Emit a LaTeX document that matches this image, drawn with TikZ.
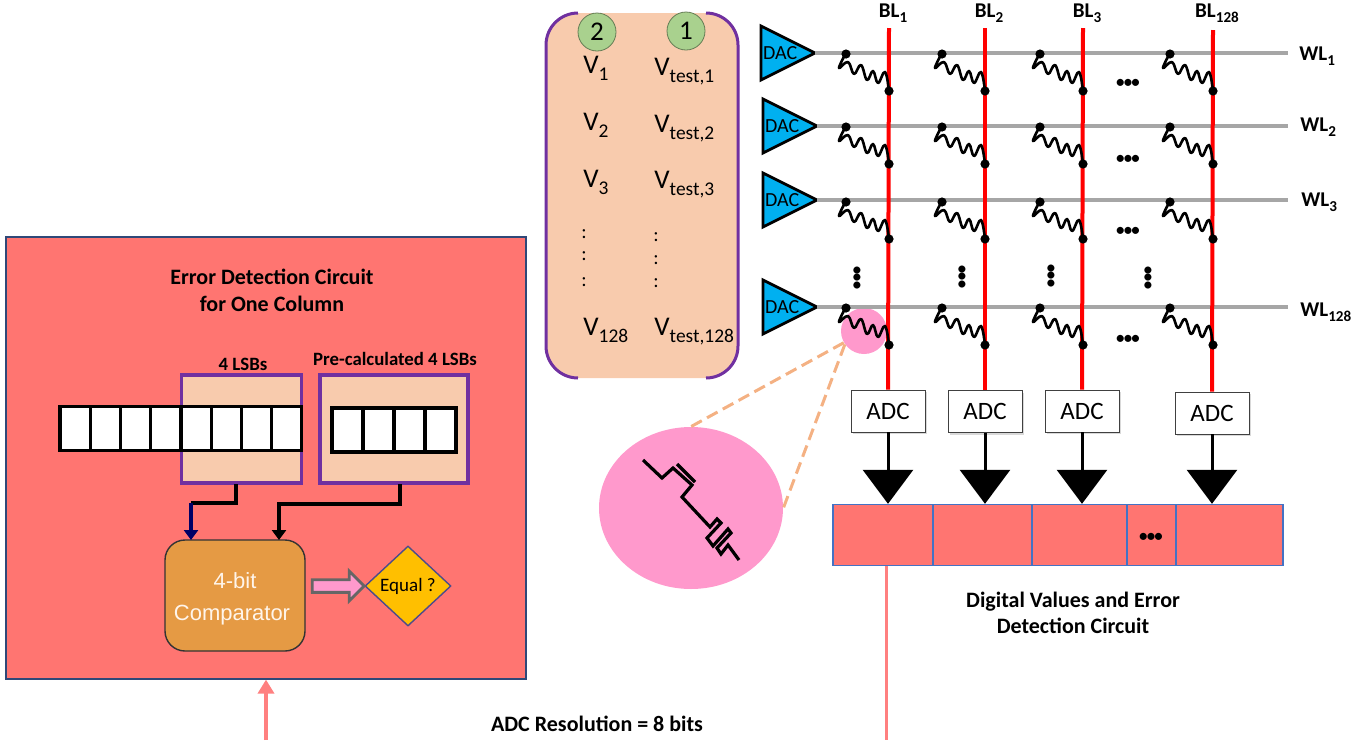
\documentclass[tikz,border=0pt]{standalone}
\usepackage{fontspec}
\setmainfont{Carlito}
\newfontfamily\arialfont{Liberation Sans}
\usetikzlibrary{arrows.meta,calc,positioning,shapes.geometric,shapes.arrows,shadows}
\definecolor{PanelRed}{RGB}{255,117,113}
\definecolor{Peach}{RGB}{248,203,173}
\definecolor{FramePurple}{RGB}{112,48,160}
\definecolor{DacBlue}{RGB}{0,176,240}
\definecolor{WireGray}{RGB}{166,166,166}
\definecolor{Pinky}{RGB}{255,153,204}
\definecolor{DashPeach}{RGB}{244,177,131}
\definecolor{CellBlue}{RGB}{68,114,196}
\definecolor{OrangeBox}{RGB}{229,154,68}
\definecolor{LeafGreen}{RGB}{169,209,142}
\definecolor{BusPink}{RGB}{255,128,128}
\definecolor{PanelEdge}{RGB}{47,72,120}
\newcommand{\idx}[1]{\raisebox{-.28em}{\scalebox{.72}{#1}}}
\tikzset{
  dac/.style={isosceles triangle,isosceles triangle stretches,draw=black,line width=1.4pt,fill=DacBlue,
    minimum width=27pt,minimum height=27pt,inner sep=0pt,outer sep=0pt,font=\fontsize{10}{10}\selectfont},
  adc/.style={draw=black!75,fill=white,minimum width=37pt,minimum height=21pt,inner sep=0pt,
    font=\fontsize{12.5}{12.5}\selectfont,drop shadow={shadow xshift=1pt,shadow yshift=-1pt,opacity=.3}},
  regcell/.style={draw=CellBlue,line width=.7pt,fill=PanelRed,minimum height=30.5pt,inner sep=0pt},
  bitcell/.style={draw=black,line width=1.6pt,fill=white,inner sep=0pt,outer sep=0pt,minimum height=22pt},
  lsbframe/.style={draw=FramePurple,line width=1.6pt,fill=Peach,inner sep=0pt},
  voltage/.style={anchor=base west,inner sep=0pt,font=\fontsize{13.5}{13.5}\selectfont},
  bold/.style={inner sep=0pt,font=\fontsize{9.4}{12}\selectfont\bfseries},
  wlabel/.style={anchor=base west,inner sep=0pt,font=\fontsize{10.5}{10.5}\selectfont\bfseries},
  dots/.style={inner sep=0pt,font=\fontsize{10}{10}\selectfont},
  stepmark/.style={circle,draw=LeafGreen!60!black,fill=LeafGreen,minimum size=19pt,inner sep=0pt,
    font=\fontsize{13.5}{13.5}\selectfont},
  memcell/.pic={
    \draw[black,line width=1.3pt,line join=round] plot[smooth,tension=.7] coordinates
      {(-43,0) (-50,15) (-41,9) (-35,21) (-28,12) (-22,27) (-16,18) (-11,30) (-4,19) (0,38)};
    \fill (-43,1) circle (2.3pt);
    \fill (0,38) circle (2.3pt);
  }
}
\begin{document}
\begin{tikzpicture}[x=.5pt,y=-.5pt]
  \useasboundingbox (0,0) rectangle (1371,740);
  % left panel
  \node[draw=PanelEdge,line width=.6pt,fill=PanelRed,minimum width=260pt,minimum height=221pt,inner sep=0pt] (detect) at (266,458) {};
  \node[bold,align=center,font=\fontsize{11}{13.5}\selectfont\bfseries] (detect title) at (272,290) {Error Detection Circuit\\for One Column};
  \node[lsbframe,minimum width=60pt,minimum height=54pt] (lsb frame) at (241.5,429) {};
  \node[lsbframe,minimum width=74pt,minimum height=54pt] (pre frame) at (394,429) {};
  \node[bold] (lsb label) at (243,364) {4 LSBs};
  \node[bold] (pre label) at (395,359) {Pre-calculated 4 LSBs};
  \foreach \i in {0,...,7}{
    \node[bitcell,minimum width=15.1pt] (bit\i) at ({75+\i*30.25},428.5) {};
  }
  \foreach \i in {0,...,3}{
    \node[bitcell,minimum width=15.5pt] (pre\i) at ({347.5+\i*31},430) {};
  }
  \node[draw=black!80,line width=.7pt,fill=OrangeBox,rounded corners=10pt,minimum width=70pt,minimum height=55.5pt,inner sep=0pt] (comparator) at (235,595.5) {};
  \node[inner sep=0pt,text=white!92!orange,font=\arialfont\fontsize{11}{16}\selectfont,align=center] (comparator text) at (232,599) {\hspace*{3pt}4-bit\\Comparator};
  \node[diamond,draw=blue!35!black!70,line width=.7pt,fill=orange!50!yellow,minimum width=43pt,minimum height=40pt,aspect=1.08,inner sep=0pt,font=\fontsize{9.5}{10}\selectfont] (equal) at (408,586) {Equal ?};
  \node[single arrow,draw=black!60,line width=1.4pt,fill=Pinky,minimum height=26pt,minimum width=15pt,single arrow head extend=3pt,inner sep=1.5pt] (result) at (335,586) {};
  \coordinate (lsb out) at (236,484);
  \coordinate (lsb bend) at (191,503);
  \coordinate (lsb in) at (191,540);
  \coordinate (pre out) at (400,484);
  \coordinate (pre in) at (279,540);
  \draw[black,line width=1.7pt] (lsb out) |- (lsb bend);
  \draw[blue!40!black,line width=1.7pt,-{Triangle[width=7pt,length=5pt]}] (lsb bend) -- (lsb in);
  \draw[black,line width=1.7pt,-{Triangle[width=7pt,length=5pt]}] (pre out) |- ($(pre in)+(0,-36)$) -- (pre in);
  % voltages
  \fill[Peach,rounded corners=16pt] (546,13) rectangle (738,378);
  \coordinate (tl) at (578,13);
  \coordinate (bl) at (578,378);
  \coordinate (tr) at (706,13);
  \coordinate (br) at (706,378);
  \draw[FramePurple,line width=1.5pt,rounded corners=16pt] (tl) -- (546,13) -- (546,378) -- (bl);
  \draw[FramePurple,line width=1.5pt,rounded corners=16pt] (tr) -- (738,13) -- (738,378) -- (br);
  \node[stepmark] (two) at (597,32) {2};
  \node[stepmark] (one) at (686,31) {1};
  \node[voltage] (v1) at (583,73) {V\idx{1}};
  \node[voltage] (v2) at (583,130) {V\idx{2}};
  \node[voltage] (v3) at (583,187) {V\idx{3}};
  \node[voltage] (v128) at (583,335) {V\idx{128}};
  \node[voltage] (t1) at (654,75) {V\idx{test,1}};
  \node[voltage] (t2) at (654,132) {V\idx{test,2}};
  \node[voltage] (t3) at (654,188) {V\idx{test,3}};
  \node[voltage] (t128) at (654,335) {V\idx{test,128}};
  \foreach \y in {234,256,282}{\node[dots] at (584,\y) {:};}
  \foreach \y in {237,260,283}{\node[dots] at (656,\y) {:};}
  % zoomed cell
  \node[circle,fill=Pinky,minimum size=23pt,inner sep=0pt] (spot) at (864,331) {};
  \node[ellipse,fill=Pinky,minimum width=92pt,minimum height=81pt,inner sep=0pt] (spot big) at (691,508) {};
  \draw[DashPeach,line width=1.5pt,dash pattern=on 6pt off 3pt] (spot.210) -- (spot big.north);
  \draw[DashPeach,line width=1.5pt,dash pattern=on 6pt off 3pt] (spot.215) -- (spot big.east);
  \draw[black,line width=1.6pt,line join=miter] (643,460) -- (662,478) -- (673,468) -- (692,485) -- (682,497) -- (710,527)
    -- (717,519) -- (721,523) -- (707,538) -- (713,546) -- (728,529) -- (731,533) -- (717,548) -- (721,554) -- (728,545) -- (739,560);
  \draw[black,line width=1.6pt] (677,464) -- (695,482);
  % crossbar
  \foreach \n/\x/\t/\ytop in {1/889/{1}/28,2/985/{2}/28,3/1083/{3}/28,4/1213/{128}/30}{
    \coordinate (bl\n) at (\x,\ytop);
    \node[anchor=base,inner sep=0pt,font=\fontsize{10.5}{10.5}\selectfont\bfseries] (bl label\n) at (\x+4,17) {BL\idx{\t}};
  }
  \foreach \n/\y/\ax/\t/\lx/\ly in {1/53/815/{1}/1299/60,2/126/817/{2}/1300/131,3/200/817/{3}/1301/206,4/307/817/{128}/1300/316}{
    \node[dac,anchor=apex] (dac\n) at (\ax,\y) {DAC};
    \coordinate (wl\n) at (1288,\y);
    \draw[WireGray,line width=2pt] (dac\n.apex) -- (wl\n);
    \node[wlabel] (wl label\n) at (\lx,\ly) {WL\idx{\t}};
  }
  \node[adc] (adc1) at (888,411) {ADC};
  \node[adc] (adc2) at (985,411.5) {ADC};
  \node[adc] (adc3) at (1082,411) {ADC};
  \node[adc] (adc4) at (1212,413) {ADC};
  \foreach \n in {1,...,4}{
    \draw[red,line width=2pt] (bl\n) -- (adc\n.north);
  }
  \foreach \y in {53,126,201,307}{
    \foreach \x in {889,985,1083,1213}{
      \pic at (\x,\y) {memcell};
    }
  }
  \foreach \y in {84,160,232,340}{
    \node[dots] at (1128,\y) {\textbullet\kern-.12em\textbullet\kern-.12em\textbullet};
  }
  \foreach \x/\y in {858/278,963/277,1052/276,1149/278}{
    \node[dots,rotate=90] at (\x,\y) {\textbullet\kern-.12em\textbullet\kern-.12em\textbullet};
  }
  % digital values
  \node[regcell,minimum width=50pt] (reg1) at (883,535) {};
  \node[regcell,minimum width=49.5pt] (reg2) at (982.5,535) {};
  \node[regcell,minimum width=47.5pt] (reg3) at (1079.5,535) {};
  \node[regcell,minimum width=24.5pt] (reg4) at (1151.5,535) {};
  \node[regcell,minimum width=53.5pt] (reg5) at (1229.5,535) {};
  \node[dots] at (1151,538) {\textbullet\kern-.12em\textbullet\kern-.12em\textbullet};
  \foreach \n/\r in {1/1,2/2,3/3,4/5}{
    \draw[black,line width=1.5pt,-{Triangle[width=25pt,length=17pt]}] (adc\n.south) -- (adc\n.south |- reg\r.north);
  }
  \node[bold,align=center,font=\fontsize{11}{13}\selectfont\bfseries] (digital) at (1073,613) {Digital Values and Error\\Detection Circuit};
  \node[bold,font=\fontsize{11}{11}\selectfont\bfseries] (resolution) at (597,724) {ADC Resolution = 8 bits};
  \coordinate (bus end) at (886,740);
  \coordinate (bus start) at (266,740);
  \draw[BusPink,line width=1.5pt] (reg1.south -| bus end) -- (bus end);
  \draw[BusPink,line width=2pt,-{Triangle[width=8pt,length=7pt]}] (bus start) -- (detect.south -| bus start);
\end{tikzpicture}
\end{document}
